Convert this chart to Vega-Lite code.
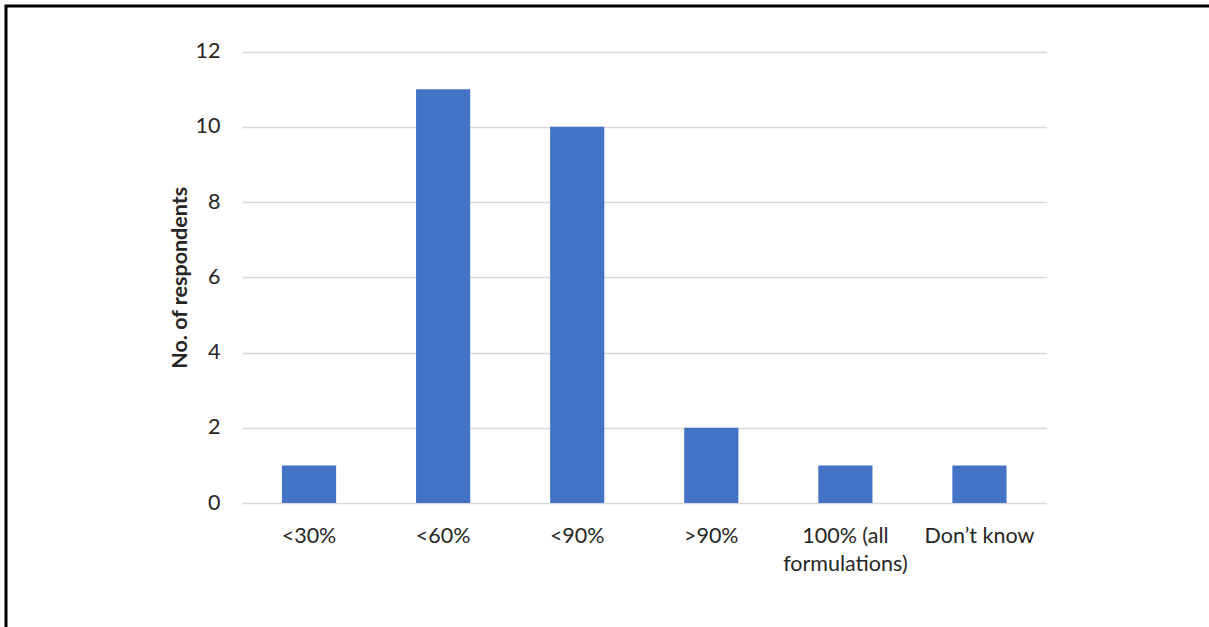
{
  "$schema": "https://vega.github.io/schema/vega-lite/v6.json",
  "width": 1203,
  "height": 621,
  "autosize": "none",
  "padding": {"left": 6, "top": 6, "right": 0, "bottom": 0},
  "background": "white",
  "config": {
    "font": "Lato",
    "view": {"stroke": "#000000", "strokeWidth": 3, "strokeDash": [1203, 1824, 621]}
  },
  "data": {
    "values": [
      {"share": "<30%", "respondents": 1},
      {"share": "<60%", "respondents": 11},
      {"share": "<90%", "respondents": 10},
      {"share": ">90%", "respondents": 2},
      {"share": "100% (all formulations)", "respondents": 1},
      {"share": "Don’t know", "respondents": 1}
    ]
  },
  "mark": {"type": "bar", "color": "#4472C4"},
  "encoding": {
    "x": {
      "field": "share",
      "type": "nominal",
      "sort": null,
      "scale": {"range": [236, 1040.5], "paddingInner": 0.596, "paddingOuter": 0.298},
      "axis": {
        "title": null,
        "orient": "bottom",
        "offset": -124,
        "ticks": false,
        "domain": false,
        "labelAngle": 0,
        "labelPadding": 22,
        "labelFontSize": 21.5,
        "labelColor": "#262626",
        "labelOverlap": false,
        "labelFlush": false,
        "labelLineHeight": 28,
        "labelExpr": "datum.value == '100% (all formulations)' ? ['100% (all', 'formulations)'] : datum.label"
      }
    },
    "y": {
      "field": "respondents",
      "type": "quantitative",
      "scale": {"domain": [0, 12], "range": [497, 45.5], "nice": false},
      "axis": {
        "title": "No. of respondents",
        "values": [0, 2, 4, 6, 8, 10, 12],
        "offset": -236,
        "ticks": false,
        "domain": false,
        "grid": true,
        "gridColor": "#d9d9d9",
        "gridWidth": 1.5,
        "labelPadding": 22,
        "labelFontSize": 21.5,
        "labelColor": "#262626",
        "titleFontSize": 21.5,
        "titleFontWeight": "bold",
        "titleColor": "#262626",
        "titlePadding": 4
      }
    }
  }
}
